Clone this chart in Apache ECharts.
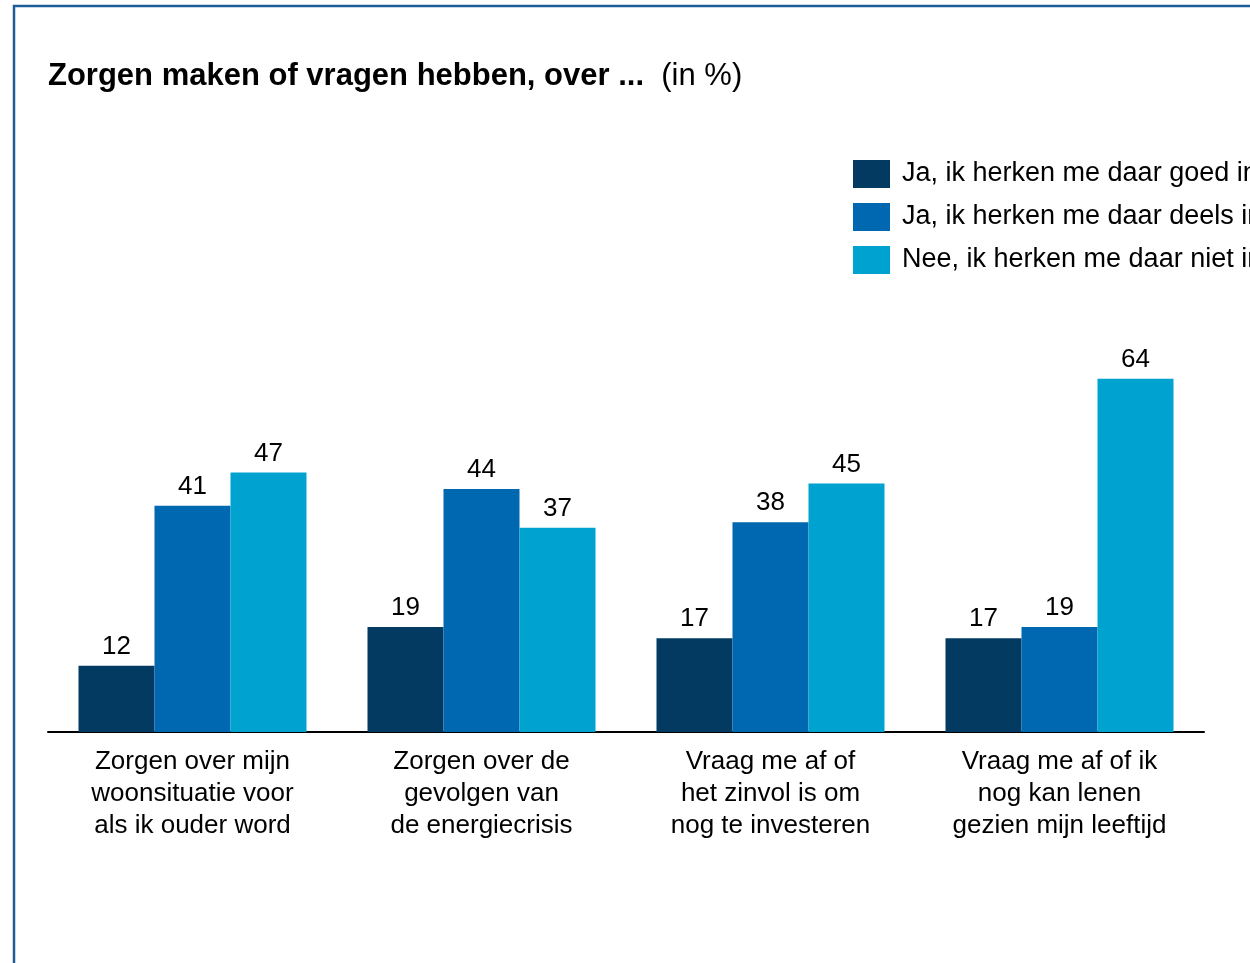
<!DOCTYPE html>
<html>
<head>
<meta charset="utf-8">
<script src="https://cdn.jsdelivr.net/npm/echarts@6/dist/echarts.min.js"></script>
<style>
  html, body { margin: 0; padding: 0; background: #fff; }
  #chart { width: 1250px; height: 963px; }
</style>
</head>
<body>
<div id="chart"></div>
<script>
// categorieën en percentages
const categories = [
  'Zorgen over mijn\nwoonsituatie voor\nals ik ouder word',
  'Zorgen over de\ngevolgen van\nde energiecrisis',
  'Vraag me af of\nhet zinvol is om\nnog te investeren',
  'Vraag me af of ik\nnog kan lenen\ngezien mijn leeftijd'
]
const seriesNames = [
  'Ja, ik herken me daar goed in',
  'Ja, ik herken me daar deels in',
  'Nee, ik herken me daar niet in'
]
const goedIn = [12, 19, 17, 17]
const deelsIn = [41, 44, 38, 19]
const nietIn = [47, 37, 45, 64]

const colors = ['#023a62', '#0067b1', '#00a3cf']
const font = '"Liberation Sans", Arial, sans-serif'

const chart = echarts.init(document.getElementById('chart'))

const makeSeries = (name, data, color) => ({
  name,
  type: 'bar',
  data,
  barWidth: 76,
  barGap: '0%',
  itemStyle: { color },
  label: {
    show: true,
    position: 'top',
    distance: 6,
    color: '#000',
    fontSize: 26,
    fontFamily: font
  }
})

const option = {
  animation: false,
  backgroundColor: '#fff',
  textStyle: { fontFamily: font },
  title: {
    left: 43,
    top: 56,
    text: '{b|Zorgen maken of vragen hebben, over ...}{n|  (in %)}',
    textStyle: {
      rich: {
        b: { fontSize: 31, fontWeight: 'bold', color: '#000', fontFamily: font },
        n: { fontSize: 31, fontWeight: 'normal', color: '#000', fontFamily: font }
      }
    }
  },
  legend: {
    orient: 'vertical',
    left: 848,
    top: 155,
    itemWidth: 37,
    itemHeight: 28,
    itemGap: 15,
    icon: 'rect',
    data: seriesNames,
    textStyle: { fontSize: 27, color: '#000', fontFamily: font, padding: [10, 0, 0, 7] }
  },
  graphic: [
    {
      type: 'rect',
      shape: { x: 14, y: 6, width: 1400, height: 1100 },
      style: { fill: 'none', stroke: '#1e5b99', lineWidth: 2.5 },
      silent: true
    }
  ],
  grid: {
    left: 48,
    right: 46,
    top: 180,
    bottom: 231
  },
  xAxis: {
    type: 'category',
    data: categories,
    axisLine: { show: true, lineStyle: { color: '#000', width: 2 } },
    axisTick: { show: false },
    axisLabel: {
      color: '#000',
      fontSize: 26,
      lineHeight: 32,
      margin: 14,
      interval: 0,
      fontFamily: font
    }
  },
  yAxis: {
    type: 'value',
    min: 0,
    max: 100,
    show: false,
    splitLine: { show: false }
  },
  series: [
    makeSeries(seriesNames[0], goedIn, colors[0]),
    makeSeries(seriesNames[1], deelsIn, colors[1]),
    makeSeries(seriesNames[2], nietIn, colors[2])
  ]
}

chart.setOption(option)
</script>
</body>
</html>
